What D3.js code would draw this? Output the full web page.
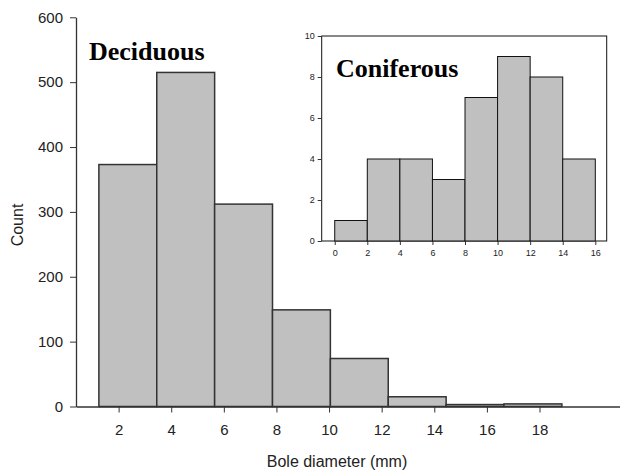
<!DOCTYPE html>
<html>
<head>
<meta charset="utf-8">
<script src="https://cdn.jsdelivr.net/npm/d3@7"></script>
<style>
  html, body { margin: 0; padding: 0; background: #fff; }
  svg { display: block; }
  .axis text { font-family: Arial, "Liberation Sans", sans-serif; fill: #222; }
  .axis path, .axis line { stroke: #333; }
</style>
</head>
<body>
<svg id="chart" width="620" height="475"></svg>
<script>
// Deciduous stems: bin lower edges (mm), common bin width, counts
const deciduousBinStart = [1.25, 3.45, 5.65, 7.85, 10.05, 12.25, 14.45, 16.65];
const deciduousBinWidth = 2.2;
const deciduousCounts = [373, 515, 312, 149, 74, 15, 3, 4];
const mainXTicks = [2, 4, 6, 8, 10, 12, 14, 16, 18];
const mainYTicks = [0, 100, 200, 300, 400, 500, 600];

// Coniferous stems (inset)
const coniferousBinStart = [0, 2, 4, 6, 8, 10, 12, 14];
const coniferousBinWidth = 2;
const coniferousCounts = [1, 4, 4, 3, 7, 9, 8, 4];
const insetXTicks = [0, 2, 4, 6, 8, 10, 12, 14, 16];
const insetYTicks = [0, 2, 4, 6, 8, 10];

const svg = d3.select("#chart");

// ---------- main histogram ----------
const x = d3.scaleLinear().domain([0.38, 21.06]).range([76, 620]);
const y = d3.scaleLinear().domain([0, 600]).range([406.5, 17.3]);

const main = svg.append("g");

main.selectAll("rect.bar")
  .data(deciduousCounts)
  .join("rect")
  .attr("class", "bar")
  .attr("x", (d, i) => x(deciduousBinStart[i]))
  .attr("width", (d, i) => x(deciduousBinStart[i] + deciduousBinWidth) - x(deciduousBinStart[i]))
  .attr("y", d => y(d))
  .attr("height", d => y(0) - y(d))
  .attr("fill", "#c0c0c0")
  .attr("stroke", "#333")
  .attr("stroke-width", 1.5);

main.append("g")
  .attr("class", "axis")
  .attr("transform", `translate(0,${y(0)})`)
  .call(d3.axisBottom(x).tickValues(mainXTicks).tickSize(6).tickPadding(12).tickSizeOuter(0))
  .call(g => g.selectAll("text").style("font-size", "15px"))
  .call(g => g.select(".domain").attr("stroke-width", 1.3));

main.append("g")
  .attr("class", "axis")
  .attr("transform", `translate(${x.range()[0]},0)`)
  .call(d3.axisLeft(y).tickValues(mainYTicks).tickSize(6).tickPadding(7).tickSizeOuter(0))
  .call(g => g.selectAll("text").style("font-size", "15px"))
  .call(g => g.select(".domain").attr("stroke-width", 1.3));

svg.append("text")
  .attr("x", 337).attr("y", 467)
  .attr("text-anchor", "middle")
  .style("font-family", "Arial, 'Liberation Sans', sans-serif")
  .style("font-size", "16px").attr("fill", "#222")
  .text("Bole diameter (mm)");

svg.append("text")
  .attr("transform", "translate(23,225) rotate(-90)")
  .attr("text-anchor", "middle")
  .style("font-family", "Arial, 'Liberation Sans', sans-serif")
  .style("font-size", "16px").attr("fill", "#222")
  .text("Count");

svg.append("text")
  .attr("x", 89).attr("y", 60)
  .style("font-family", "'Liberation Serif', 'Times New Roman', serif")
  .style("font-weight", "bold")
  .style("font-size", "26px").attr("fill", "#000")
  .text("Deciduous");

// ---------- inset histogram ----------
const xi = d3.scaleLinear().domain([-0.8, 16.7]).range([321.7, 606.7]);
const yi = d3.scaleLinear().domain([0, 10]).range([241, 36]);

const inset = svg.append("g");

inset.append("rect")
  .attr("x", xi.range()[0]).attr("y", yi(10))
  .attr("width", xi.range()[1] - xi.range()[0])
  .attr("height", yi(0) - yi(10))
  .attr("fill", "#fff")
  .attr("stroke", "#111").attr("stroke-width", 1);

inset.selectAll("rect.bar")
  .data(coniferousCounts)
  .join("rect")
  .attr("class", "bar")
  .attr("x", (d, i) => xi(coniferousBinStart[i]))
  .attr("width", (d, i) => xi(coniferousBinStart[i] + coniferousBinWidth) - xi(coniferousBinStart[i]))
  .attr("y", d => yi(d))
  .attr("height", d => yi(0) - yi(d))
  .attr("fill", "#c0c0c0")
  .attr("stroke", "#111")
  .attr("stroke-width", 1);

inset.append("g")
  .attr("class", "axis")
  .attr("transform", `translate(0,${yi(0)})`)
  .call(d3.axisBottom(xi).tickValues(insetXTicks).tickSize(4).tickPadding(5).tickSizeOuter(0))
  .call(g => g.select(".domain").remove())
  .call(g => g.selectAll("text").style("font-size", "9px"));

inset.append("g")
  .attr("class", "axis")
  .attr("transform", `translate(${xi.range()[0]},0)`)
  .call(d3.axisLeft(yi).tickValues(insetYTicks).tickSize(4).tickPadding(3).tickSizeOuter(0))
  .call(g => g.select(".domain").remove())
  .call(g => g.selectAll("text").style("font-size", "9px"));

svg.append("text")
  .attr("x", 336).attr("y", 77)
  .style("font-family", "'Liberation Serif', 'Times New Roman', serif")
  .style("font-weight", "bold")
  .style("font-size", "26px").attr("fill", "#000")
  .text("Coniferous");
</script>
</body>
</html>
